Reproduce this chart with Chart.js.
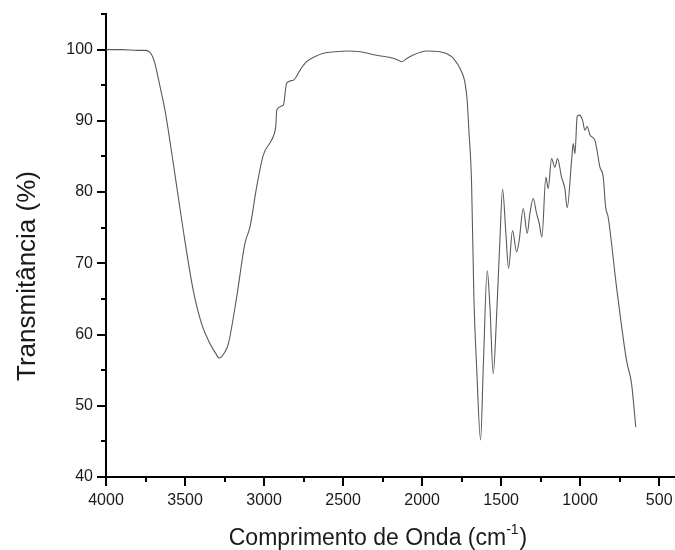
<!DOCTYPE html>
<html><head><meta charset="utf-8">
<script src="https://cdn.jsdelivr.net/npm/chart.js@4"></script>
<style>html,body{margin:0;padding:0;background:#fff}</style>
</head><body>
<canvas id="c" width="675" height="550"></canvas>
<script>
const wavenumbers = [4000,3900,3800,3750,3722,3705,3690,3660,3627,3574,3511,3448,3395,3342,3310,3283,3255,3226,3173,3121,3089,3047,3005,2960,2942,2925,2920,2878,2857,2815,2770,2731,2680,2625,2550,2477,2393,2288,2183,2150,2130,2100,2060,1971,1887,1840,1803,1750,1730,1715,1705,1687,1672,1655,1630,1613,1588,1571,1550,1529,1508,1491,1470,1453,1428,1402,1386,1360,1335,1318,1297,1276,1259,1242,1217,1202,1181,1160,1143,1118,1097,1082,1054,1044,1033,1019,1006,985,970,955,938,907,875,854,839,823,770,707,675,648];
const transmittance = [100.0,100.0,99.9,99.9,99.6,99.0,98.0,95.0,91.5,84.0,74.6,66.2,61.5,58.7,57.5,56.7,57.3,58.7,65.3,72.8,75.1,80.7,85.2,87.0,87.8,89.5,91.5,92.2,95.3,95.7,97.2,98.3,99.0,99.5,99.7,99.8,99.7,99.2,98.8,98.5,98.3,98.7,99.2,99.8,99.7,99.4,98.8,96.9,95.5,92.9,89.0,81.2,64.8,55.4,45.2,55.4,69.0,63.9,54.5,62.5,73.2,80.4,74.2,69.3,74.6,71.6,73.2,77.7,74.2,77.0,79.1,77.0,75.6,73.7,82.1,80.5,84.7,83.5,84.7,82.1,80.5,77.8,84.5,86.8,85.4,90.6,90.8,90.1,88.7,89.2,88.0,87.3,83.5,82.1,77.9,76.5,66.7,56.4,53.1,47.0];
const xTicks = [4000,3500,3000,2500,2000,1500,1000,500];
const xMinorTicks = [3750,3250,2750,2250,1750,1250,750];
const yTicks = [40,50,60,70,80,90,100];
const yMinorTicks = [45,55,65,75,85,95,105];
const xTitleMain = 'Comprimento de Onda (cm';
const xTitleSup = '-1';
const xTitleEnd = ')';
const yTitle = 'Transmitância (%)';

const FONT = "'Liberation Sans', Arial, sans-serif";
const TEXT = '#1a1a1a';

const axisDecor = {
  id: 'axisDecor',
  afterDraw(chart) {
    const {ctx, scales: {x, y}} = chart;
    const ax = x.top, ay = y.right;
    ctx.save();
    ctx.strokeStyle = '#000';
    ctx.lineWidth = 2;
    ctx.beginPath();
    xTicks.forEach(v => { const p = Math.round(x.getPixelForValue(v)); ctx.moveTo(p, ax); ctx.lineTo(p, ax + 9); });
    xMinorTicks.forEach(v => { const p = Math.round(x.getPixelForValue(v)); ctx.moveTo(p, ax); ctx.lineTo(p, ax + 5); });
    yTicks.forEach(v => { const p = Math.round(y.getPixelForValue(v)); ctx.moveTo(ay, p); ctx.lineTo(ay - 9, p); });
    yMinorTicks.forEach(v => { const p = Math.round(y.getPixelForValue(v)); ctx.moveTo(ay, p); ctx.lineTo(ay - 5, p); });
    ctx.stroke();

    ctx.fillStyle = TEXT;
    ctx.save();
    ctx.translate(28, 276);
    ctx.rotate(-Math.PI / 2);
    ctx.font = '26px ' + FONT;
    ctx.textAlign = 'center';
    ctx.textBaseline = 'middle';
    ctx.fillText(yTitle, 0, 0);
    ctx.restore();

    ctx.font = '23px ' + FONT;
    const w1 = ctx.measureText(xTitleMain).width;
    const w3 = ctx.measureText(xTitleEnd).width;
    ctx.font = '14px ' + FONT;
    const w2 = ctx.measureText(xTitleSup).width;
    const total = w1 + w2 + w3 + 1;
    let sx = 378 - total / 2;
    const by = 545;
    ctx.textAlign = 'left';
    ctx.textBaseline = 'alphabetic';
    ctx.font = '23px ' + FONT;
    ctx.fillText(xTitleMain, sx, by);
    sx += w1;
    ctx.font = '14px ' + FONT;
    ctx.fillText(xTitleSup, sx, by - 11);
    sx += w2 + 1;
    ctx.font = '23px ' + FONT;
    ctx.fillText(xTitleEnd, sx, by);
    ctx.restore();
  }
};

new Chart(document.getElementById('c'), {
  type: 'line',
  data: {
    datasets: [{
      data: wavenumbers.map((w, i) => ({x: w, y: transmittance[i]})),
      borderColor: '#5a5a5a',
      borderWidth: 1.1,
      pointRadius: 0,
      fill: false,
      cubicInterpolationMode: 'monotone'
    }]
  },
  plugins: [axisDecor],
  options: {
    responsive: false,
    animation: false,
    devicePixelRatio: 1,
    layout: {padding: {top: 14, right: 0, left: 0, bottom: 0}},
    plugins: {legend: {display: false}, tooltip: {enabled: false}},
    scales: {
      x: {
        type: 'linear', reverse: true, min: 400, max: 4000,
        afterBuildTicks: s => { s.ticks = xTicks.map(v => ({value: v})); },
        afterFit: s => { s.height = 73; s.paddingLeft = 0; s.paddingRight = 0; },
        grid: {display: false, drawTicks: false},
        border: {display: true, color: '#000', width: 2},
        ticks: {padding: 14, color: TEXT, font: {family: FONT, size: 16}, maxRotation: 0, autoSkip: false, callback: v => String(v)}
      },
      y: {
        type: 'linear', min: 40, max: 105,
        afterBuildTicks: s => { s.ticks = yTicks.map(v => ({value: v})); },
        afterFit: s => { s.width = 106; s.paddingTop = 0; s.paddingBottom = 0; },
        grid: {display: false, drawTicks: false},
        border: {display: true, color: '#000', width: 2},
        ticks: {padding: 13, color: TEXT, font: {family: FONT, size: 16}, autoSkip: false, callback: v => String(v)}
      }
    }
  }
});
</script>
</body></html>
